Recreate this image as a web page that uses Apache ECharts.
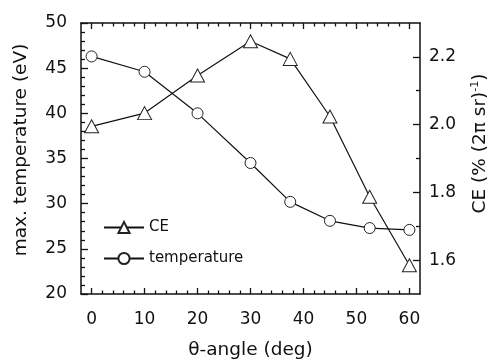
<!DOCTYPE html>
<html>
<head>
<meta charset="utf-8">
<script src="https://cdn.jsdelivr.net/npm/echarts@6/dist/echarts.min.js"></script>
<style>
  html, body { margin: 0; padding: 0; background: #fff; }
  #myEchart { width: 491px; height: 362px; }
</style>
</head>
<body>
<div id="myEchart"></div>
<script>
var angles = [0, 10, 20, 30, 37.5, 45, 52.5, 60];
var temperature = [46.3, 44.6, 40.0, 34.5, 30.2, 28.1, 27.3, 27.1];
var ce = [1.995, 2.034, 2.145, 2.246, 2.194, 2.024, 1.787, 1.585];

var xMajor = [0, 10, 20, 30, 40, 50, 60];
var xMinor = [2, 4, 6, 8, 12, 14, 16, 18, 22, 24, 26, 28, 32, 34, 36, 38, 42, 44, 46, 48, 52, 54, 56, 58];
var ceMajor = [1.6, 1.8, 2.0, 2.2];
var ceMinor = [1.7, 1.9, 2.1];

var font = 'DejaVu Sans';
var ink = '#111';

function pairs(xs, ys) {
    var out = [];
    for (var i = 0; i < xs.length; i++) {
        out.push([xs[i], ys[i]]);
    }
    return out;
}

// bottom/top axes share one range; major and minor ticks come from separate axes
function xAxisPart(pos, ticks, len, withLine, withLabel) {
    return {
        type: 'value',
        position: pos,
        min: -2,
        max: 62,
        splitLine: { show: false },
        axisLine: { show: withLine, onZero: false, lineStyle: { color: ink, width: 1.5 } },
        axisTick: { show: true, inside: true, length: len, customValues: ticks, lineStyle: { color: ink, width: 1.3 } },
        axisLabel: { show: withLabel, customValues: ticks, margin: 17, color: ink, fontFamily: font, fontSize: 17 }
    };
}

var myChart = echarts.init(document.getElementById('myEchart'));

var bottomMain = xAxisPart('bottom', xMajor, 6, true, true);
bottomMain.name = 'θ-angle (deg)';
bottomMain.nameLocation = 'middle';
bottomMain.nameGap = 47;
bottomMain.nameTextStyle = { color: ink, fontFamily: font, fontSize: 18.5 };

myChart.setOption({
    animation: false,
    grid: {
        left: 81,
        right: 71,
        top: 23,
        bottom: 68,
        containLabel: false,
        outerBoundsMode: 'none'
    },
    legend: {
        orient: 'vertical',
        left: 98,
        top: 215,
        itemWidth: 40,
        itemHeight: 14,
        itemGap: 16,
        textStyle: { color: ink, fontFamily: font, fontSize: 15 },
        data: ['CE', 'temperature']
    },
    xAxis: [
        bottomMain,
        xAxisPart('bottom', xMinor, 3.5, false, false),
        xAxisPart('top', xMajor, 6, true, false),
        xAxisPart('top', xMinor, 3.5, false, false)
    ],
    yAxis: [{
        type: 'value',
        position: 'left',
        min: 20,
        max: 50,
        interval: 5,
        name: 'max. temperature (eV)',
        nameLocation: 'middle',
        nameGap: 50,
        nameTextStyle: { color: ink, fontFamily: font, fontSize: 18.5, padding: [0, 0, 0, 17] },
        splitLine: { show: false },
        axisLine: { show: true, onZero: false, lineStyle: { color: ink, width: 1.5 } },
        axisTick: { show: true, inside: true, length: 7, lineStyle: { color: ink, width: 1.3 } },
        minorTick: { show: true, splitNumber: 5, length: 4, lineStyle: { color: ink, width: 1.3 } },
        axisLabel: { margin: 14, color: ink, fontFamily: font, fontSize: 17 }
    }, {
        type: 'value',
        position: 'right',
        min: 1.5,
        max: 2.3,
        name: 'CE (% (2π sr){sup|-1})',
        nameLocation: 'middle',
        nameRotate: 90,
        nameGap: 50,
        nameTextStyle: {
            color: ink, fontFamily: font, fontSize: 18.5, padding: [0, 0, 0, 30],
            rich: { sup: { fontSize: 11, verticalAlign: 'top', padding: [0, 0, 10, 0], fontFamily: font, color: ink } }
        },
        splitLine: { show: false },
        axisLine: { show: true, onZero: false, lineStyle: { color: ink, width: 1.5 } },
        axisTick: { show: true, inside: true, length: 7, customValues: ceMajor, lineStyle: { color: ink, width: 1.3 } },
        axisLabel: {
            customValues: ceMajor,
            margin: 9, color: ink, fontFamily: font, fontSize: 17,
            formatter: function(v) { return v.toFixed(1); }
        }
    }, {
        type: 'value',
        position: 'right',
        min: 1.5,
        max: 2.3,
        splitLine: { show: false },
        axisLine: { show: false, onZero: false },
        axisTick: { show: true, inside: true, length: 4, customValues: ceMinor, lineStyle: { color: ink, width: 1.3 } },
        axisLabel: { show: false }
    }],
    series: [{
        name: 'CE',
        type: 'line',
        yAxisIndex: 1,
        symbol: 'triangle',
        symbolSize: [14, 13],
        lineStyle: { color: ink, width: 1.2 },
        itemStyle: { color: '#fff', borderColor: '#222', borderWidth: 1 },
        data: pairs(angles, ce)
    }, {
        name: 'temperature',
        type: 'line',
        yAxisIndex: 0,
        symbol: 'circle',
        symbolSize: 11,
        lineStyle: { color: ink, width: 1.2 },
        itemStyle: { color: '#fff', borderColor: '#222', borderWidth: 1 },
        data: pairs(angles, temperature)
    }]
});
</script>
</body>
</html>
